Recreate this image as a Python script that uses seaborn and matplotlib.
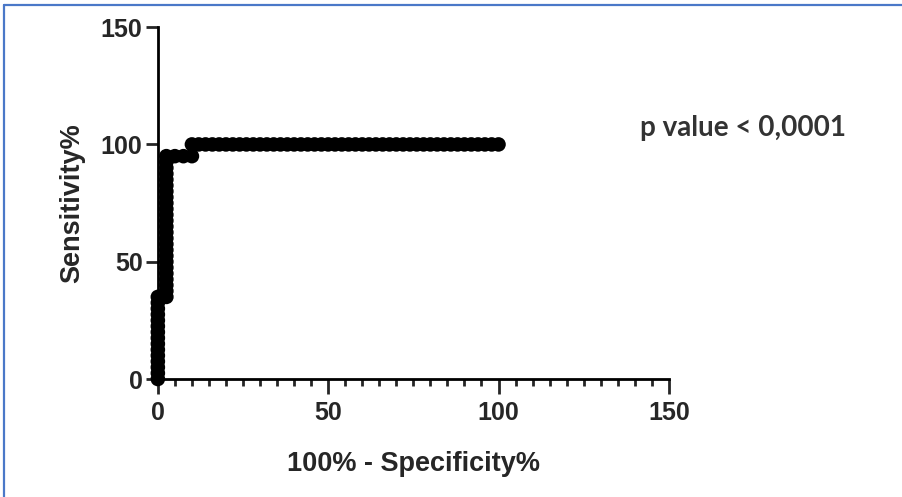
import matplotlib
matplotlib.use("Agg")
from matplotlib import pyplot as plt
from matplotlib.lines import Line2D
from matplotlib.ticker import MultipleLocator
import pandas as pd
import seaborn as sns

# ROC points: 100% - Specificity% vs Sensitivity%
fpr_low = [0, 0, 0, 0, 0, 0, 0, 0, 0, 0, 0, 0, 0, 0, 0]
sens_low = [0, 2.5, 5, 7.5, 10, 12.5, 15, 17.5, 20, 22.5, 25, 27.5, 30, 32.5, 35]

fpr_mid = [2.5] * 25
sens_mid = [35, 37.5, 40, 42.5, 45, 47.5, 50, 52.5, 55, 57.5, 60, 62.5, 65,
            67.5, 70, 72.5, 75, 77.5, 80, 82.5, 85, 87.5, 90, 92.5, 95]

fpr_step = [5, 7.5, 10]
sens_step = [95, 95, 95]

fpr_top = [10, 12, 14, 16, 18, 20, 22, 24, 26, 28, 30, 32, 34, 36, 38, 40,
           42, 44, 46, 48, 50, 52, 54, 56, 58, 60, 62, 64, 66, 68, 70, 72,
           74, 76, 78, 80, 82, 84, 86, 88, 90, 92, 94, 96, 98, 100]
sens_top = [100] * len(fpr_top)

x_ticks = [0, 50, 100, 150]
y_ticks = [0, 50, 100, 150]
p_text = "p value < 0,0001"

roc = pd.DataFrame({
    "fpr": fpr_low + fpr_mid + fpr_step + fpr_top,
    "sens": sens_low + sens_mid + sens_step + sens_top,
})

sns.set_style("ticks")
plt.rcParams['font.family'] = ['Liberation Sans', 'DejaVu Sans']

fig = plt.figure(figsize=(9.02, 4.97), dpi=100)
ax = fig.add_axes([0.175, 0.2374, 0.5665, 0.708])

sns.scatterplot(data=roc, x="fpr", y="sens", ax=ax, color="black", s=110,
                edgecolor="none", linewidth=0, clip_on=False, zorder=3)

ax.set_xlim(0, 150)
ax.set_ylim(0, 150)
ax.set_xticks(x_ticks)
ax.set_yticks(y_ticks)
ax.xaxis.set_minor_locator(MultipleLocator(5))

for side in ["top", "right"]:
    ax.spines[side].set_visible(False)
for side in ["left", "bottom"]:
    ax.spines[side].set_linewidth(2)
    ax.spines[side].set_color("black")

ax.tick_params(axis="x", which="major", length=11, width=2, pad=5,
               labelsize=18)
ax.tick_params(axis="x", which="minor", length=5, width=2)
ax.tick_params(axis="y", which="major", length=9, width=2, pad=2,
               labelsize=18)
for lab in ax.get_xticklabels() + ax.get_yticklabels():
    lab.set_fontweight("bold")

ax.set_xlabel("100% - Specificity%", fontsize=19.5, fontweight="bold")
ax.set_ylabel("Sensitivity%", fontsize=19.5, fontweight="bold")
ax.xaxis.set_label_coords(0.5, -0.205)
ax.yaxis.set_label_coords(-0.143, 0.5)

fig.text(640 / 902, 1 - 128 / 497, p_text, fontsize=20, fontweight="bold",
         color="#333333", va="center", ha="left",
         family=["Lato", "DejaVu Sans"])

# blue frame edge at top and left of the picture
fig.add_artist(Line2D([4 / 902, 1], [1 - 5 / 497, 1 - 5 / 497],
                      color="#4a78c8", linewidth=1.6))
fig.add_artist(Line2D([4 / 902, 4 / 902], [0, 1 - 5 / 497],
                      color="#4a78c8", linewidth=1.6))

fig.savefig("out.png", dpi=100)
